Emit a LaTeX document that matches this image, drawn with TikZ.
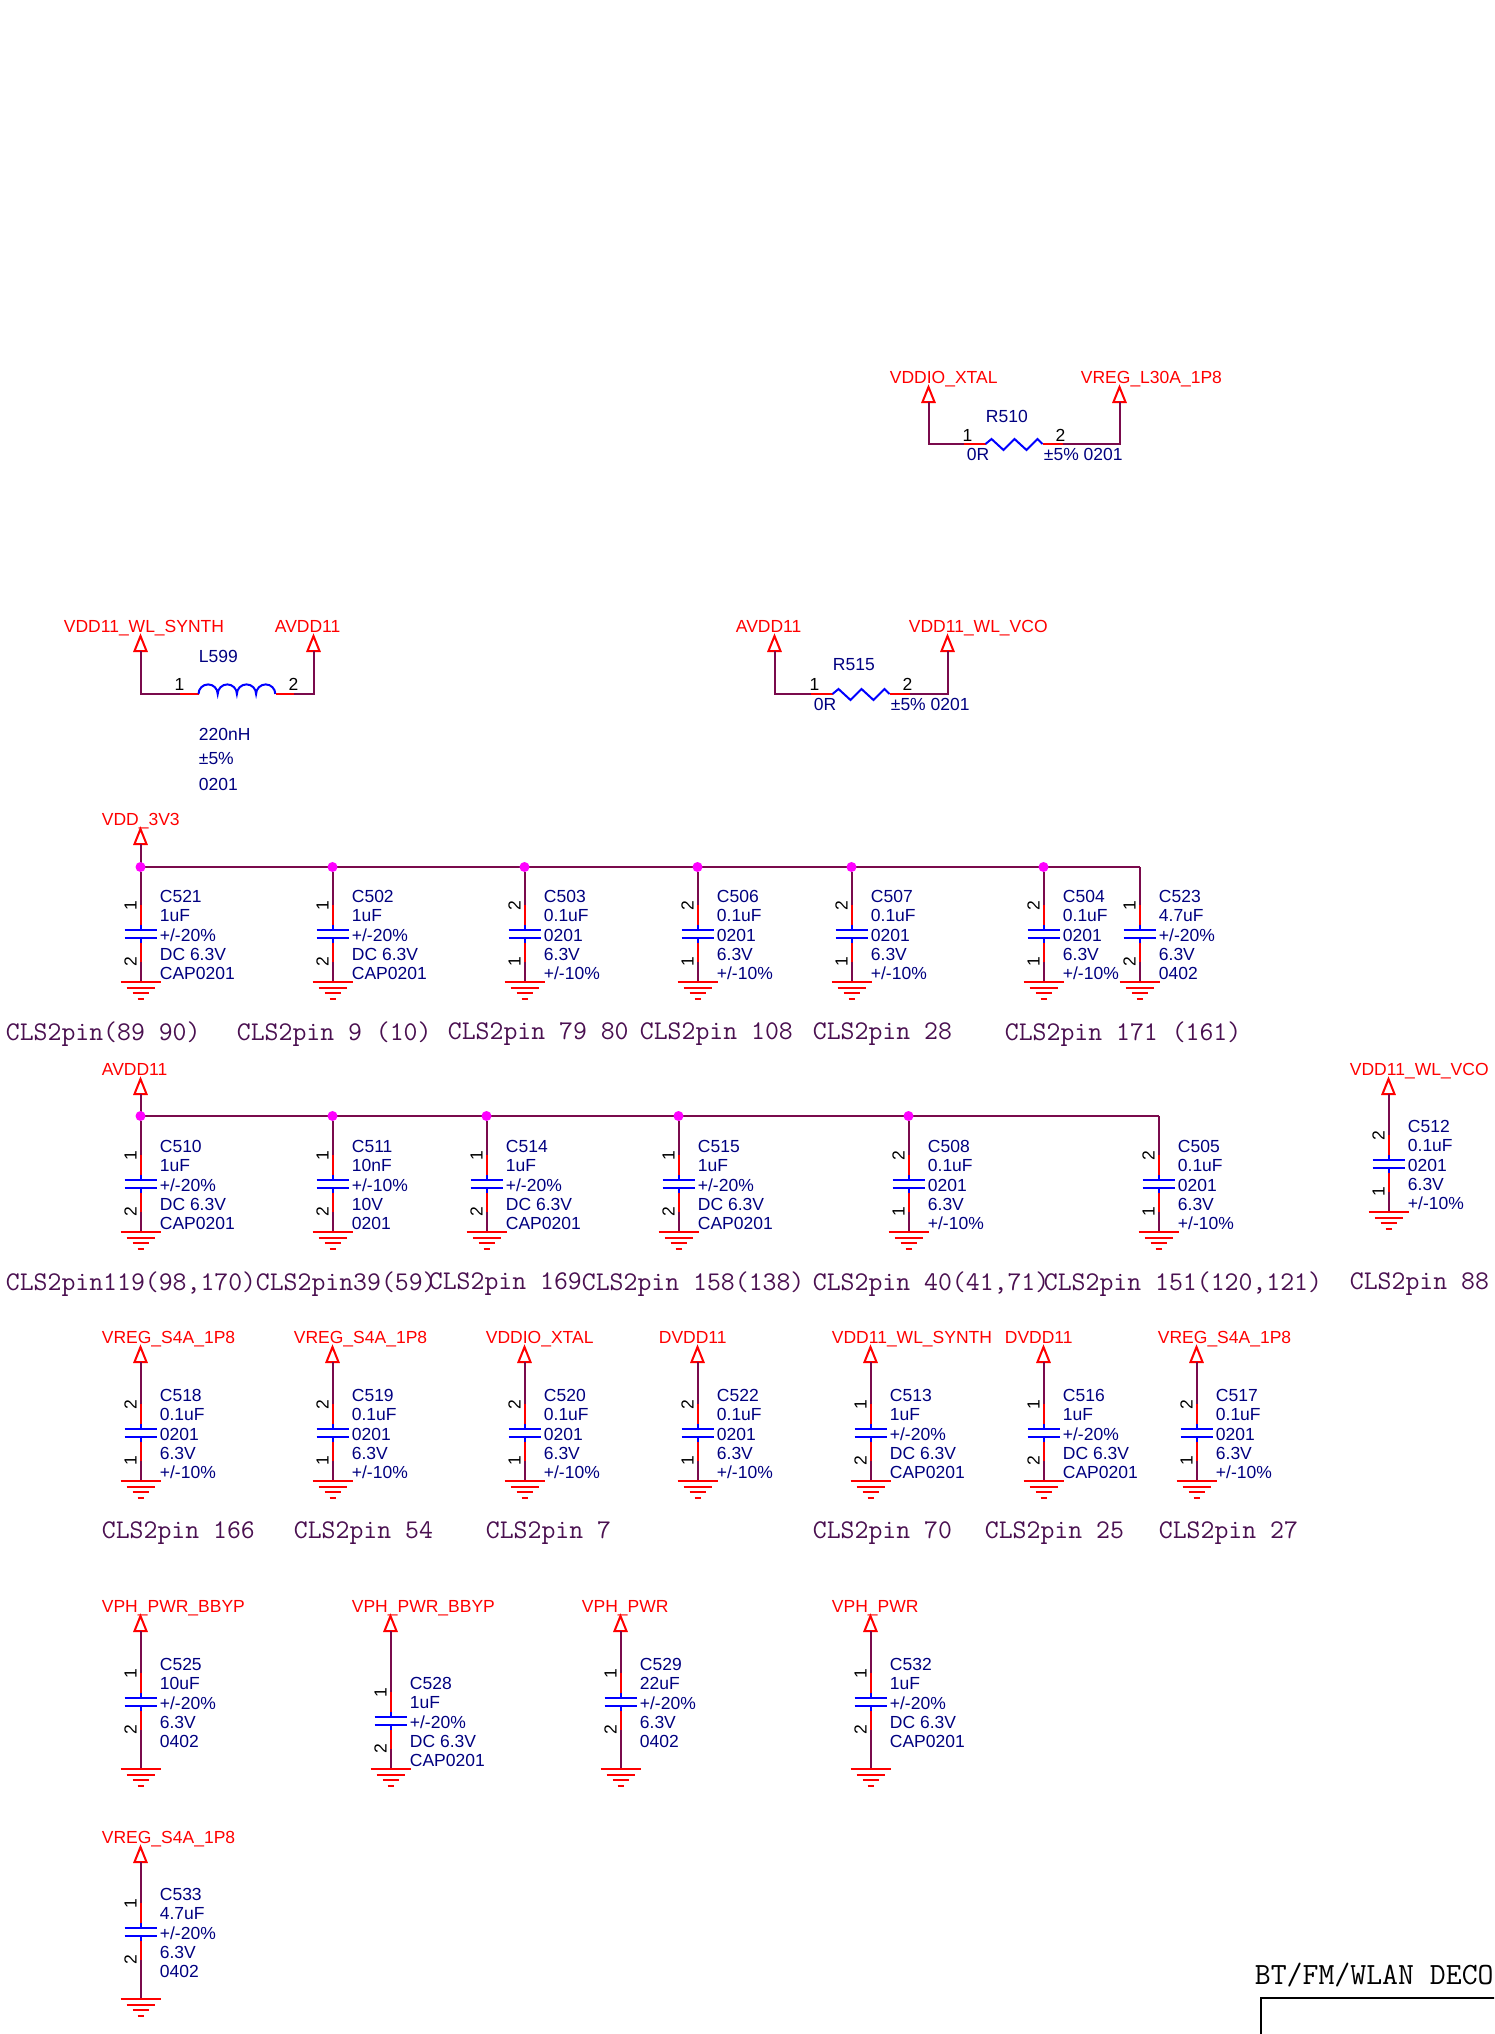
\documentclass[tikz,border=0pt]{standalone}
\usepackage{fontspec}
\setmainfont{Liberation Sans}
\newfontfamily\schmono{Latin Modern Mono}
\definecolor{wirecol}{HTML}{7A0A4C}
\definecolor{partcol}{HTML}{000080}
\definecolor{notecol}{HTML}{4A1050}
\definecolor{dotcol}{HTML}{FF00FF}
\definecolor{pinred}{HTML}{FF0000}
\definecolor{partblue}{HTML}{0000FF}
\tikzset{
    wire/.style={draw=wirecol,line width=1pt},
    pinline/.style={draw=pinred,line width=1pt},
    partline/.style={draw=partblue,line width=1pt},
    portline/.style={draw=pinred,line width=1pt},
    portname/.style={anchor=base west,inner sep=0pt,text=pinred,font=\fontsize{8.75}{10}\selectfont},
    partname/.style={anchor=west,inner sep=0pt,text=partcol,align=left,font=\fontsize{8.75}{9.6}\selectfont},
    pinnum/.style={inner sep=0pt,text=black,font=\fontsize{8.75}{10}\selectfont},
    junction/.style={circle,fill=dotcol,inner sep=0pt,minimum size=5pt},
    netnote/.style={anchor=west,inner sep=0pt,text=notecol,font=\schmono\fontsize{13.5}{14}\selectfont},
}
\newcommand{\PortUp}[5][-39]{
    \coordinate (#2) at (#3,#4+15);
    \draw[portline] (#2) -- (#3-6,#4+15) -- (#3,#4) -- (#3+6,#4+15) -- cycle;
    \node[portname] (#2-name) at (#3+#1,#4-4) {#5};
}
\newcommand{\CapDec}[8]{
    \coordinate (#1-a) at (#2,#4-29);
    \coordinate (#1-b) at (#2,#4-4);
    \coordinate (#1-c) at (#2,#4+4);
    \coordinate (#1-d) at (#2,#4+28);
    \coordinate (#1-g) at (#2,#5);
    \draw[wire] (#3) -- (#1-a);
    \draw[pinline] (#1-a) -- (#2,#4-9);
    \draw[partline] (#2,#4-9) -- (#1-b);
    \draw[partline] (#2-16,#4-4) -- (#2+16,#4-4);
    \draw[partline] (#2-16,#4+4) -- (#2+16,#4+4);
    \draw[partline] (#1-c) -- (#2,#4+9);
    \draw[pinline] (#2,#4+9) -- (#1-d);
    \draw[wire] (#1-d) -- (#1-g);
    \draw[pinline] (#2-20,#5) -- (#2+20,#5);
    \draw[pinline] (#2-14,#5+6) -- (#2+14,#5+6);
    \draw[pinline] (#2-8,#5+11) -- (#2+8,#5+11);
    \draw[pinline] (#2-3,#5+17) -- (#2+3,#5+17);
    \node[pinnum,rotate=90] (#1-n1) at (#2-10,#4-28) {#6};
    \node[pinnum,rotate=90] (#1-n2) at (#2-10,#4+28) {#7};
    \node[partname] (#1-val) at (#2+19,#4+1) {#8};
}
\begin{document}
\begin{tikzpicture}[x=0.5pt,y=-0.5pt]
    \useasboundingbox (-0.5,0) rectangle (1493.5,2034);
    \clip (-0.5,0) rectangle (1493.5,2034);

    \PortUp{pxtal}{928}{387}{VDDIO\_XTAL}
    \PortUp{pl30}{1119}{387}{VREG\_L30A\_1P8}
    \coordinate (r510a) at (928,444);
    \coordinate (r510b) at (963,444);
    \coordinate (r510c) at (985,444);
    \coordinate (r510d) at (1042,444);
    \coordinate (r510e) at (1062,444);
    \coordinate (r510f) at (1119,444);
    \draw[wire] (pxtal) -- (r510a) -- (r510b);
    \draw[pinline] (r510b) -- (r510c);
    \draw[partline] (r510c) -- (991,439) -- (1003,450) -- (1014,439) -- (1026,450) -- (1037,439) -- (r510d);
    \draw[pinline] (r510d) -- (r510e);
    \draw[wire] (r510e) -- (r510f) -- (pl30);
    \node[partname] (r510name) at (985,416) {R510};
    \node[partname] (r510val) at (966,454) {0R};
    \node[partname] (r510tol) at (1043,454) {±5\% 0201};
    \node[pinnum] (r510n1) at (967,435) {1};
    \node[pinnum] (r510n2) at (1060,435) {2};

    \PortUp[-77]{psynth}{140}{636}{VDD11\_WL\_SYNTH}
    \PortUp{pavdd}{313}{636}{AVDD11}
    \coordinate (l599a) at (140,694);
    \coordinate (l599b) at (179,694);
    \coordinate (l599c) at (198,694);
    \coordinate (l599d) at (275,694);
    \coordinate (l599e) at (293,694);
    \coordinate (l599f) at (313,694);
    \draw[wire] (psynth) -- (l599a) -- (l599b);
    \draw[pinline] (l599b) -- (l599c);
    \draw[partline] (l599c) arc (180:360:9.6) arc (180:360:9.6) arc (180:360:9.6) arc (180:360:9.6);
    \draw[pinline] (l599d) -- (l599e);
    \draw[wire] (l599e) -- (l599f) -- (pavdd);
    \node[partname] (l599name) at (198,656) {L599};
    \node[partname] (l599val) at (198,734) {220nH};
    \node[partname] (l599tol) at (198,759) {±5\%};
    \node[partname] (l599pkg) at (198,784) {0201};
    \node[pinnum] (l599n1) at (179,684) {1};
    \node[pinnum] (l599n2) at (293,684) {2};

    \PortUp{pavddb}{774}{636}{AVDD11}
    \PortUp{pvco}{947}{636}{VDD11\_WL\_VCO}
    \coordinate (r515a) at (774,694);
    \coordinate (r515b) at (810,694);
    \coordinate (r515c) at (832,694);
    \coordinate (r515d) at (889,694);
    \coordinate (r515e) at (909,694);
    \coordinate (r515f) at (947,694);
    \draw[wire] (pavddb) -- (r515a) -- (r515b);
    \draw[pinline] (r515b) -- (r515c);
    \draw[partline] (r515c) -- (838,689) -- (850,700) -- (861,689) -- (873,700) -- (884,689) -- (r515d);
    \draw[pinline] (r515d) -- (r515e);
    \draw[wire] (r515e) -- (r515f) -- (pvco);
    \node[partname] (r515name) at (832,665) {R515};
    \node[partname] (r515val) at (813,704) {0R};
    \node[partname] (r515tol) at (890,704) {±5\% 0201};
    \node[pinnum] (r515n1) at (814,684) {1};
    \node[pinnum] (r515n2) at (907,684) {2};

    \PortUp{p3v3}{140}{829}{VDD\_3V3}
    \coordinate (j1g) at (1139,867);
    \draw[wire] (p3v3) -- (140,867) -- (j1g);
    \node[junction] (j1a) at (140,867) {};
    \node[junction] (j1b) at (332,867) {};
    \node[junction] (j1c) at (524,867) {};
    \node[junction] (j1d) at (697,867) {};
    \node[junction] (j1e) at (851,867) {};
    \node[junction] (j1f) at (1043,867) {};
    \CapDec{c521}{140}{j1a}{934}{982}{1}{2}{C521\\1uF\\+/-20\%\\DC 6.3V\\CAP0201}
    \CapDec{c502}{332}{j1b}{934}{982}{1}{2}{C502\\1uF\\+/-20\%\\DC 6.3V\\CAP0201}
    \CapDec{c503}{524}{j1c}{934}{982}{2}{1}{C503\\0.1uF\\0201\\6.3V\\+/-10\%}
    \CapDec{c506}{697}{j1d}{934}{982}{2}{1}{C506\\0.1uF\\0201\\6.3V\\+/-10\%}
    \CapDec{c507}{851}{j1e}{934}{982}{2}{1}{C507\\0.1uF\\0201\\6.3V\\+/-10\%}
    \CapDec{c504}{1043}{j1f}{934}{982}{2}{1}{C504\\0.1uF\\0201\\6.3V\\+/-10\%}
    \CapDec{c523}{1139}{j1g}{934}{982}{1}{2}{C523\\4.7uF\\+/-20\%\\6.3V\\0402}
    \node[netnote] (n89) at (5,1034) {CLS2pin(89 90)};
    \node[netnote] (n9) at (236,1034) {CLS2pin 9 (10)};
    \node[netnote] (n79) at (447,1034) {CLS2pin 79 80};
    \node[netnote] (n108) at (639,1034) {CLS2pin 108};
    \node[netnote] (n28) at (812,1034) {CLS2pin 28};
    \node[netnote] (n171) at (1004,1034) {CLS2pin 171 (161)};

    \PortUp{pavddc}{140}{1079}{AVDD11}
    \coordinate (j2f) at (1158,1116);
    \draw[wire] (pavddc) -- (140,1116) -- (j2f);
    \node[junction] (j2a) at (140,1116) {};
    \node[junction] (j2b) at (332,1116) {};
    \node[junction] (j2c) at (486,1116) {};
    \node[junction] (j2d) at (678,1116) {};
    \node[junction] (j2e) at (908,1116) {};
    \CapDec{c510}{140}{j2a}{1184}{1232}{1}{2}{C510\\1uF\\+/-20\%\\DC 6.3V\\CAP0201}
    \CapDec{c511}{332}{j2b}{1184}{1232}{1}{2}{C511\\10nF\\+/-10\%\\10V\\0201}
    \CapDec{c514}{486}{j2c}{1184}{1232}{1}{2}{C514\\1uF\\+/-20\%\\DC 6.3V\\CAP0201}
    \CapDec{c515}{678}{j2d}{1184}{1232}{1}{2}{C515\\1uF\\+/-20\%\\DC 6.3V\\CAP0201}
    \CapDec{c508}{908}{j2e}{1184}{1232}{2}{1}{C508\\0.1uF\\0201\\6.3V\\+/-10\%}
    \CapDec{c505}{1158}{j2f}{1184}{1232}{2}{1}{C505\\0.1uF\\0201\\6.3V\\+/-10\%}
    \PortUp{pvcob}{1388}{1079}{VDD11\_WL\_VCO}
    \CapDec{c512}{1388}{pvcob}{1164}{1212}{2}{1}{C512\\0.1uF\\0201\\6.3V\\+/-10\%}
    \node[netnote] (n119) at (5,1284) {CLS2pin119(98,170)};
    \node[netnote] (n39) at (255,1284) {CLS2pin39(59)};
    \node[netnote] (n169) at (428,1284) {CLS2pin 169};
    \node[netnote] (n158) at (581,1284) {CLS2pin 158(138)};
    \node[netnote] (n40) at (812,1284) {CLS2pin 40(41,71)};
    \node[netnote] (n151) at (1043,1284) {CLS2pin 151(120,121)};
    \node[netnote] (n88) at (1349,1284) {CLS2pin 88};

    \PortUp{ps4a}{140}{1347}{VREG\_S4A\_1P8}
    \PortUp{ps4b}{332}{1347}{VREG\_S4A\_1P8}
    \PortUp{pxtalb}{524}{1347}{VDDIO\_XTAL}
    \PortUp{pdvdd}{697}{1347}{DVDD11}
    \PortUp{psynthb}{870}{1347}{VDD11\_WL\_SYNTH}
    \PortUp{pdvddb}{1043}{1347}{DVDD11}
    \PortUp{ps4c}{1196}{1347}{VREG\_S4A\_1P8}
    \CapDec{c518}{140}{ps4a}{1433}{1481}{2}{1}{C518\\0.1uF\\0201\\6.3V\\+/-10\%}
    \CapDec{c519}{332}{ps4b}{1433}{1481}{2}{1}{C519\\0.1uF\\0201\\6.3V\\+/-10\%}
    \CapDec{c520}{524}{pxtalb}{1433}{1481}{2}{1}{C520\\0.1uF\\0201\\6.3V\\+/-10\%}
    \CapDec{c522}{697}{pdvdd}{1433}{1481}{2}{1}{C522\\0.1uF\\0201\\6.3V\\+/-10\%}
    \CapDec{c513}{870}{psynthb}{1433}{1481}{1}{2}{C513\\1uF\\+/-20\%\\DC 6.3V\\CAP0201}
    \CapDec{c516}{1043}{pdvddb}{1433}{1481}{1}{2}{C516\\1uF\\+/-20\%\\DC 6.3V\\CAP0201}
    \CapDec{c517}{1196}{ps4c}{1433}{1481}{2}{1}{C517\\0.1uF\\0201\\6.3V\\+/-10\%}
    \node[netnote] (n166) at (101,1533) {CLS2pin 166};
    \node[netnote] (n54) at (293,1533) {CLS2pin 54};
    \node[netnote] (n7) at (485,1533) {CLS2pin 7};
    \node[netnote] (n70) at (812,1533) {CLS2pin 70};
    \node[netnote] (n25) at (984,1533) {CLS2pin 25};
    \node[netnote] (n27) at (1158,1533) {CLS2pin 27};

    \PortUp{pbbyp}{140}{1616}{VPH\_PWR\_BBYP}
    \PortUp{pbbypb}{390}{1616}{VPH\_PWR\_BBYP}
    \PortUp{pvph}{620}{1616}{VPH\_PWR}
    \PortUp{pvphb}{870}{1616}{VPH\_PWR}
    \CapDec{c525}{140}{pbbyp}{1702}{1769}{1}{2}{C525\\10uF\\+/-20\%\\6.3V\\0402}
    \CapDec{c528}{390}{pbbypb}{1721}{1769}{1}{2}{C528\\1uF\\+/-20\%\\DC 6.3V\\CAP0201}
    \CapDec{c529}{620}{pvph}{1702}{1769}{1}{2}{C529\\22uF\\+/-20\%\\6.3V\\0402}
    \CapDec{c532}{870}{pvphb}{1702}{1769}{1}{2}{C532\\1uF\\+/-20\%\\DC 6.3V\\CAP0201}

    \PortUp{ps4d}{140}{1847}{VREG\_S4A\_1P8}
    \CapDec{c533}{140}{ps4d}{1932}{1999}{1}{2}{C533\\4.7uF\\+/-20\%\\6.3V\\0402}

    \node[anchor=base west,inner sep=0pt,font=\schmono\fontsize{15.45}{16}\selectfont] (title) at (1254,1984) {BT/FM/WLAN DECO};
    \coordinate (boxa) at (1494,1998);
    \coordinate (boxb) at (1260,1998);
    \coordinate (boxc) at (1260,2034);
    \draw[line width=1pt] (boxa) -- (boxb) -- (boxc);
\end{tikzpicture}
\end{document}
